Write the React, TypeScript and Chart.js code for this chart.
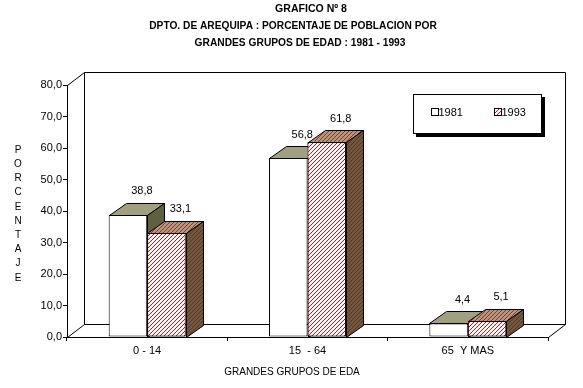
import React, { useEffect, useRef } from 'react';
import { Chart, registerables } from 'chart.js';

Chart.register(...registerables);

const categories = ['0 - 14', '15  - 64', '65  Y MAS'];
const seriesLabels = ['1981', '1993'];
const values1981 = [38.8, 56.8, 4.4];
const values1993 = [33.1, 61.8, 5.1];
const yMin = 0;
const yMax = 80;
const yStep = 10;
const titleLines = [
  'GRAFICO Nº 8',
  'DPTO. DE AREQUIPA : PORCENTAJE DE POBLACION POR',
  'GRANDES GRUPOS DE EDAD : 1981 - 1993',
];
const yAxisTitle = 'PORCENTAJE';
const xAxisTitle = 'GRANDES GRUPOS DE EDA';

const FONT = '"Liberation Sans", Arial, sans-serif';
const BDX = 17, BDY = -12; // bar depth
const WDX = 17, WDY = -13; // wall depth

const px = (v: number) => Math.round(v) + 0.5;
const fmt = (v: number) => v.toFixed(1).replace('.', ',');

function makeHatch(ctx: CanvasRenderingContext2D, bg: string, fg: string) {
  const c = document.createElement('canvas');
  c.width = 4;
  c.height = 4;
  const g = c.getContext('2d')!;
  g.fillStyle = bg;
  g.fillRect(0, 0, 4, 4);
  g.fillStyle = fg;
  for (let i = 0; i < 4; i++) g.fillRect(3 - i, i, 1, 1);
  return ctx.createPattern(c, 'repeat') as CanvasPattern;
}

function poly(ctx: CanvasRenderingContext2D, pts: number[][], fill: any) {
  ctx.beginPath();
  pts.forEach((p, i) => (i === 0 ? ctx.moveTo(p[0], p[1]) : ctx.lineTo(p[0], p[1])));
  ctx.closePath();
  ctx.fillStyle = fill;
  ctx.fill();
  ctx.strokeStyle = '#000';
  ctx.lineWidth = 1;
  ctx.stroke();
}

export default function App() {
  const ref = useRef<HTMLCanvasElement>(null);

  useEffect(() => {
    document.body.style.margin = '0';
    const canvas = ref.current!;
    const ctx0 = canvas.getContext('2d')!;
    const frontHatch = makeHatch(ctx0, '#ffffff', '#ff0000');
    const topHatch = makeHatch(ctx0, '#a0a080', '#c02020');
    const sideHatch = makeHatch(ctx0, '#606040', '#902020');
    const fills = [
      { top: '#a0a080', side: '#606040' },
      { top: topHatch, side: sideHatch },
    ];

    const draw3d = (ctx: CanvasRenderingContext2D, el: any, f: any) => {
      const { x, y, base, width } = el.getProps(['x', 'y', 'base', 'width'], true);
      const l = px(x - width / 2), r = px(x + width / 2), t = px(y), b = px(base);
      poly(ctx, [[l, t], [r, t], [r + BDX, t + BDY], [l + BDX, t + BDY]], f.top);
      poly(ctx, [[r, t], [r + BDX, t + BDY], [r + BDX, b + BDY], [r, b]], f.side);
    };

    const plugin = {
      id: 'deco3d',
      beforeDraw(chart: any) {
        const { ctx, chartArea: a } = chart;
        ctx.save();
        ctx.fillStyle = '#fff';
        ctx.fillRect(0, 0, chart.width, chart.height);
        const L = px(a.left), R = px(a.right), T = px(a.top), B = px(a.bottom);
        ctx.strokeStyle = '#000';
        ctx.lineWidth = 1;
        ctx.beginPath();
        ctx.rect(L + WDX, T + WDY, R - L, B - T);
        ctx.moveTo(L, T); ctx.lineTo(L + WDX, T + WDY);
        ctx.moveTo(L, B); ctx.lineTo(L + WDX, B + WDY);
        ctx.moveTo(R, B); ctx.lineTo(R + WDX, B + WDY);
        ctx.stroke();
        ctx.restore();
      },
      afterDatasetsDraw(chart: any) {
        const { ctx, chartArea } = chart;
        const m0 = chart.getDatasetMeta(0);
        const m1 = chart.getDatasetMeta(1);
        ctx.save();
        for (let i = 0; i < categories.length; i++) {
          draw3d(ctx, m0.data[i], fills[0]);
          m1.data[i].draw(ctx, chartArea);
          draw3d(ctx, m1.data[i], fills[1]);
        }
        // value labels
        ctx.fillStyle = '#000';
        ctx.font = '11px ' + FONT;
        ctx.textAlign = 'center';
        ctx.textBaseline = 'middle';
        [m0, m1].forEach((m: any, di: number) => {
          const vals = di === 0 ? values1981 : values1993;
          m.data.forEach((el: any, i: number) => {
            const { x, y } = el.getProps(['x', 'y'], true);
            ctx.fillText(fmt(vals[i]), x + BDX - 3, y + BDY - 11.5);
          });
        });
        ctx.restore();
      },
      afterDraw(chart: any) {
        const { ctx, chartArea: a } = chart;
        ctx.save();
        // title (slightly condensed bold)
        ctx.fillStyle = '#000';
        ctx.textAlign = 'center';
        ctx.textBaseline = 'alphabetic';
        ctx.font = 'bold 11px ' + FONT;
        const centers = [311, 293, 300];
        const baselines = [12, 29, 46];
        const squeeze = [0.96, 0.926, 0.93];
        titleLines.forEach((t, i) => {
          ctx.save();
          ctx.translate(centers[i], baselines[i]);
          ctx.scale(squeeze[i], 1);
          ctx.fillText(t, 0, 0);
          ctx.restore();
        });
        // y axis title (stacked)
        ctx.font = '10px ' + FONT;
        ctx.textBaseline = 'middle';
        yAxisTitle.split('').forEach((ch, i) => ctx.fillText(ch, 18, 150 + i * 14.2));
        // x axis title
        ctx.fillText(xAxisTitle, 292, 372);
        // legend
        const lx = px(a.right - 135), ly = px(a.top + 9), lw = 128, lh = 39;
        ctx.fillStyle = '#000';
        ctx.fillRect(lx + 2.5, ly + 2.5, lw + 1, lh + 1);
        ctx.fillStyle = '#fff';
        ctx.fillRect(lx, ly, lw, lh);
        ctx.strokeStyle = '#000';
        ctx.lineWidth = 1;
        ctx.strokeRect(lx, ly, lw, lh);
        const sw = [
          { x: lx + 18, fill: '#ffffff' },
          { x: lx + 81, fill: frontHatch },
        ];
        ctx.font = '11px ' + FONT;
        ctx.textAlign = 'left';
        ctx.textBaseline = 'middle';
        sw.forEach((s, i) => {
          ctx.fillStyle = s.fill as any;
          ctx.fillRect(s.x, ly + 14, 7, 7);
          ctx.strokeRect(s.x, ly + 14, 7, 7);
          ctx.fillStyle = '#000';
          ctx.fillText(seriesLabels[i], s.x + 7, ly + 18);
        });
        ctx.restore();
      },
    };

    const chart = new Chart(canvas, {
      type: 'bar',
      data: {
        labels: categories,
        datasets: [
          {
            label: seriesLabels[0],
            data: values1981,
            backgroundColor: '#ffffff',
            borderColor: '#000',
            borderWidth: 1,
            borderSkipped: false,
          },
          {
            label: seriesLabels[1],
            data: values1993,
            backgroundColor: frontHatch,
            borderColor: '#000',
            borderWidth: 1,
            borderSkipped: false,
          },
        ],
      },
      options: {
        animation: false,
        responsive: false,
        devicePixelRatio: 1,
        layout: { padding: { top: 85, right: 35, left: 0, bottom: 0 } },
        datasets: { bar: { categoryPercentage: 0.48, barPercentage: 1 } },
        plugins: {
          legend: { display: false },
          title: { display: false },
          tooltip: { enabled: false },
        },
        font: { family: FONT, size: 11 },
        scales: {
          x: {
            grid: { drawOnChartArea: false, drawTicks: true, tickLength: 4, color: '#000', offset: true },
            border: { display: true, color: '#000' },
            ticks: { color: '#000', font: { family: FONT, size: 11 }, padding: 3, maxRotation: 0, autoSkip: false },
            afterFit: (s: any) => { s.height = 51; },
          },
          y: {
            min: yMin,
            max: yMax,
            ticks: {
              stepSize: yStep,
              color: '#000',
              font: { family: FONT, size: 11 },
              padding: 1,
              callback: (v: any) => fmt(Number(v)),
            },
            grid: { drawOnChartArea: false, drawTicks: true, tickLength: 4, color: '#000' },
            border: { display: true, color: '#000' },
            afterFit: (s: any) => { s.width = 67; },
          },
        },
      } as any,
      plugins: [plugin],
    });
    return () => chart.destroy();
  }, []);

  return <canvas ref={ref} width={583} height={388} style={{ display: 'block' }} />;
}
